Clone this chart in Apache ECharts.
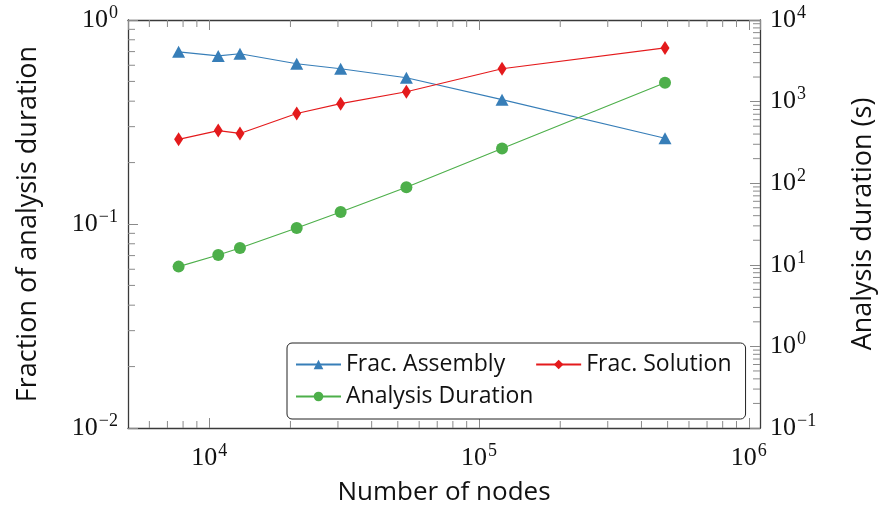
<!DOCTYPE html>
<html>
<head>
<meta charset="utf-8">
<script src="https://cdn.jsdelivr.net/npm/echarts@6/dist/echarts.min.js"></script>
<style>html,body{margin:0;padding:0;background:#fff}#c{width:885px;height:511px}</style>
</head>
<body>
<div id="c"></div>
<script>
// ---- data ----
const nodes = [7700, 10800, 13000, 21100, 30700, 53800, 121700, 489000];
const fracAssembly = [0.698, 0.667, 0.683, 0.610, 0.577, 0.521, 0.407, 0.263];
const fracSolution = [0.260, 0.287, 0.278, 0.348, 0.389, 0.445, 0.577, 0.730];
const analysisDuration = [9.5, 13.2, 16.1, 28.3, 44.3, 89, 267, 1706];
const seriesNames = ['Frac. Assembly', 'Frac. Solution', 'Analysis Duration'];
const xTicks = [1e4, 1e5, 1e6];
const yLeftTicks = [1e-2, 1e-1, 1e0];
const yRightTicks = [1e-1, 1e0, 1e1, 1e2, 1e3, 1e4];

// ---- helpers ----
const FONT = 'Open Sans';
const SERIF = 'Liberation Serif';
function minorValues(lo, hi) {
  const out = [];
  for (let d = lo; d < hi; d *= 10) for (let k = 2; k <= 9; k++) out.push(d * k);
  return out;
}
function powLabel(ticks) {
  return function (v) {
    for (const t of ticks) {
      if (Math.abs(Math.log10(v) - Math.log10(t)) < 1e-6) {
        const e = Math.round(Math.log10(t));
        return '{b|10}{s|' + String(e).replace('-', '\u2212') + '}';
      }
    }
    return '';
  };
}
const richLab = {
  b: { fontFamily: SERIF, fontSize: 26, color: '#111' },
  s: { fontFamily: SERIF, fontSize: 18, color: '#111', padding: [0, 0, 14, 1] }
};
const TICKC = '#8a8a8a', AXC = '#3a3a3a';

function xMinor(params, api) {
  const cs = params.coordSys;
  const x = api.coord([api.value(0), 0.5])[0];
  const st = { stroke: TICKC, lineWidth: 1 };
  return { type: 'group', children: [
    { type: 'line', shape: { x1: x, y1: cs.y + cs.height, x2: x, y2: cs.y + cs.height - 7 }, style: st },
    { type: 'line', shape: { x1: x, y1: cs.y, x2: x, y2: cs.y + 7 }, style: st }
  ]};
}
function yLeftMinor(params, api) {
  const cs = params.coordSys;
  const y = api.coord([1e4, api.value(1)])[1];
  return { type: 'line', shape: { x1: cs.x, y1: y, x2: cs.x + 7, y2: y }, style: { stroke: TICKC, lineWidth: 1 } };
}
function yRightMinor(params, api) {
  const cs = params.coordSys;
  const y = api.coord([1e4, api.value(1)])[1];
  return { type: 'line', shape: { x1: cs.x + cs.width, y1: y, x2: cs.x + cs.width - 7, y2: y }, style: { stroke: TICKC, lineWidth: 1 } };
}

const chart = echarts.init(document.getElementById('c'), null, { renderer: 'canvas' });
const xCommon = {
  type: 'log', logBase: 10, min: 5000, max: 1.1e6,
  axisLine: { show: true, lineStyle: { color: AXC, width: 1.3 } },
  axisTick: { show: true, inside: true, length: 10, lineStyle: { color: TICKC, width: 1 } },
  splitLine: { show: false }, minorTick: { show: false }
};
chart.setOption({
  animation: false,
  backgroundColor: '#fff',
  grid: { left: 128, right: 121, top: 20, bottom: 81 },
  legend: {
    data: [
      { name: seriesNames[0], textStyle: { padding: [0, 21, 0, 0] } },
      { name: seriesNames[1] },
      { name: seriesNames[2] }
    ],
    left: 287, top: 343, width: 445,
    orient: 'horizontal',
    itemWidth: 45, itemHeight: 12, itemGap: 9,
    padding: [10, 14, 11, 8],
    borderColor: '#222', borderWidth: 1, borderRadius: 5,
    backgroundColor: '#fff',
    textStyle: { fontFamily: FONT, fontSize: 23, color: '#111', lineHeight: 22 }
  },
  xAxis: [
    Object.assign({}, xCommon, {
      position: 'bottom',
      name: 'Number of nodes', nameLocation: 'middle', nameGap: 52,
      nameTextStyle: { fontFamily: FONT, fontSize: 26, color: '#111' },
      axisLabel: { formatter: powLabel(xTicks), rich: richLab, margin: 14, showMinLabel: false, showMaxLabel: false }
    }),
    Object.assign({}, xCommon, { position: 'top', axisLabel: { show: false } })
  ],
  yAxis: [
    {
      type: 'log', logBase: 10, min: 1e-2, max: 1, position: 'left',
      name: 'Fraction of analysis duration', nameLocation: 'middle', nameGap: 86, nameRotate: 90,
      nameTextStyle: { fontFamily: FONT, fontSize: 27, color: '#111' },
      axisLine: { show: true, lineStyle: { color: AXC, width: 1.3 } },
      axisTick: { show: true, inside: true, length: 10, lineStyle: { color: TICKC, width: 1 } },
      axisLabel: { formatter: powLabel(yLeftTicks), rich: richLab, margin: 10 },
      splitLine: { show: false }
    },
    {
      type: 'log', logBase: 10, min: 1e-1, max: 1e4, position: 'right',
      name: 'Analysis duration (s)', nameLocation: 'middle', nameGap: 90, nameRotate: 90,
      nameTextStyle: { fontFamily: FONT, fontSize: 27, color: '#111' },
      axisLine: { show: true, lineStyle: { color: AXC, width: 1.3 } },
      axisTick: { show: true, inside: true, length: 10, lineStyle: { color: TICKC, width: 1 } },
      axisLabel: { formatter: powLabel(yRightTicks), rich: richLab, margin: 10 },
      splitLine: { show: false }
    }
  ],
  series: [
    { type: 'custom', silent: true, xAxisIndex: 0, yAxisIndex: 0, renderItem: xMinor,
      data: minorValues(1e3, 1e6).filter(v => v > 5000 && v < 1.1e6).map(v => [v, 0.5]), z: 1 },
    { type: 'custom', silent: true, xAxisIndex: 0, yAxisIndex: 0, renderItem: yLeftMinor,
      data: minorValues(1e-2, 1).map(v => [1e4, v]), z: 1 },
    { type: 'custom', silent: true, xAxisIndex: 0, yAxisIndex: 1, renderItem: yRightMinor,
      data: minorValues(1e-1, 1e4).map(v => [1e4, v]), z: 1 },
    {
      name: seriesNames[0], type: 'line', xAxisIndex: 0, yAxisIndex: 0,
      data: nodes.map((n, i) => [n, fracAssembly[i]]),
      symbol: 'triangle', symbolSize: [13, 12],
      lineStyle: { color: '#377eb8', width: 1.1 }, itemStyle: { color: '#377eb8' }, z: 3
    },
    {
      name: seriesNames[1], type: 'line', xAxisIndex: 0, yAxisIndex: 0,
      data: nodes.map((n, i) => [n, fracSolution[i]]),
      symbol: 'diamond', symbolSize: [9, 14],
      lineStyle: { color: '#e41a1c', width: 1.1 }, itemStyle: { color: '#e41a1c' }, z: 3
    },
    {
      name: seriesNames[2], type: 'line', xAxisIndex: 0, yAxisIndex: 1,
      data: nodes.map((n, i) => [n, analysisDuration[i]]),
      symbol: 'circle', symbolSize: 12,
      lineStyle: { color: '#4daf4a', width: 1.1 }, itemStyle: { color: '#4daf4a' }, z: 3
    }
  ]
});
</script>
</body>
</html>
